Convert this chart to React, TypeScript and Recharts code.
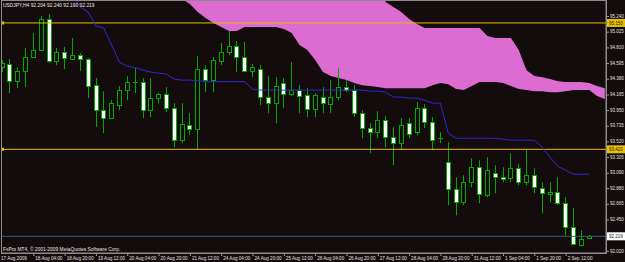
import { Area, Bar, ComposedChart, Line, ReferenceLine, XAxis, YAxis } from "recharts";

// USDJPY H4, 17 Aug 2009 12:00 .. 3 Sep 2009 00:00 (bar index = position)
const opens = [
  94.54, 94.581, 94.347, 94.485, 94.677, 94.773, 95.199, 94.622, 94.746, 94.65,
  94.705, 94.65, 94.292, 93.949, 93.839, 94.018, 94.224, 94.334, 94.334, 93.949,
  94.114, 94.169, 93.976, 93.537, 93.743, 93.688, 94.512, 94.361, 94.622, 94.746,
  94.828, 94.677, 94.485, 94.512, 94.128, 94.045, 94.32, 94.169, 94.224, 94.155,
  93.963, 94.128, 94.031, 94.128, 94.265, 94.224, 93.908, 93.702, 93.647, 93.812,
  93.578, 93.496, 93.771, 93.647, 93.976, 93.784, 93.562, 93.235, 92.864, 92.685,
  92.96, 93.166, 92.781, 93.084, 93.029, 93.015, 93.152, 92.96, 93.056, 92.878,
  92.795, 92.823, 92.672, 92.342, 92.095, 92.204,
];
const highs = [
  94.636, 94.65, 94.54, 94.801, 95.007, 95.24, 95.268, 94.801, 94.815, 94.938,
  94.732, 94.663, 94.389, 94.21, 94.086, 94.279, 94.416, 94.526, 94.389, 94.389,
  94.183, 94.265, 94.045, 94.045, 93.908, 94.691, 94.567, 94.677, 94.869, 95.034,
  94.897, 94.883, 94.581, 94.567, 94.416, 94.402, 94.389, 94.608, 94.292, 94.251,
  94.183, 94.265, 94.361, 94.526, 94.361, 94.292, 93.949, 93.77, 93.935, 93.867,
  93.716, 93.839, 93.839, 94.059, 94.031, 93.853, 93.647, 93.509, 93.029, 93.056,
  93.29, 93.262, 93.303, 93.194, 93.166, 93.358, 93.207, 93.4, 93.152, 92.96,
  92.96, 93.029, 92.754, 92.603, 92.301, 92.24,
];
const lows = [
  94.471, 94.183, 94.251, 94.265, 94.67, 94.76, 94.595, 94.567, 94.512, 94.64,
  94.485, 94.114, 93.716, 93.633, 93.825, 93.949, 94.086, 94.183, 93.839, 93.853,
  94.045, 93.922, 93.441, 93.496, 93.606, 93.4, 94.196, 94.196, 94.567, 94.705,
  94.471, 94.471, 94.402, 94.018, 93.908, 93.77, 93.977, 94.141, 93.908, 93.853,
  93.853, 93.908, 93.908, 94.086, 94.196, 93.853, 93.564, 93.358, 93.564, 93.441,
  93.194, 93.4, 93.564, 93.606, 93.702, 93.4, 93.496, 92.644, 92.507, 92.644,
  92.891, 92.672, 92.754, 92.809, 92.96, 92.96, 92.919, 92.919, 92.809, 92.534,
  92.685, 92.644, 92.232, 92.095, 92.081, 92.19,
];
const closes = [
  94.595, 94.347, 94.485, 94.677, 94.773, 95.199, 94.622, 94.746, 94.663, 94.705,
  94.65, 94.279, 93.949, 93.839, 94.045, 94.224, 94.334, 94.327, 93.949, 94.114,
  94.169, 93.976, 93.537, 93.757, 93.688, 94.512, 94.361, 94.636, 94.746, 94.828,
  94.677, 94.485, 94.54, 94.128, 94.045, 94.279, 94.169, 94.224, 94.141, 93.963,
  94.155, 94.045, 94.128, 94.265, 94.224, 93.908, 93.702, 93.647, 93.812, 93.578,
  93.496, 93.743, 93.619, 93.976, 93.784, 93.537, 93.555, 92.864, 92.685, 92.96,
  93.166, 92.795, 93.125, 93.029, 93.001, 93.152, 92.96, 93.056, 92.891, 92.809,
  92.823, 92.672, 92.342, 92.109, 92.177, 92.219,
];

// Kijun-sen
const kijun = [
  95.78, 95.78, 95.78, 95.78, 95.78, 95.78, 95.62, 95.62, 95.62, 95.5,
  95.364, 95.295, 95.103, 95.075, 94.842, 94.608, 94.553, 94.533, 94.498, 94.471,
  94.457, 94.444, 94.375, 94.361, 94.361, 94.354, 94.34, 94.34, 94.34, 94.34,
  94.34, 94.34, 94.237, 94.224, 94.224, 94.224, 94.224, 94.224, 94.224, 94.224,
  94.224, 94.224, 94.224, 94.224, 94.224, 94.224, 94.224, 94.21, 94.21, 94.196,
  94.128, 94.128, 94.114, 94.114, 94.086, 94.045, 94.045, 93.633, 93.564, 93.564,
  93.564, 93.564, 93.564, 93.564, 93.551, 93.537, 93.537, 93.537, 93.537, 93.441,
  93.303, 93.18, 93.125, 93.07, 93.07, 93.07,
];

// Senkou spans (cloud edges), run 2 bars past the last candle
const spanUpper = [
  95.7, 95.7, 95.7, 95.7, 95.7, 95.7, 95.7, 95.7, 95.7, 95.7,
  95.7, 95.7, 95.7, 95.7, 95.7, 95.7, 95.7, 95.7, 95.7, 95.7,
  95.7, 95.7, 95.7, 95.7, 95.7, 95.7, 95.7, 95.7, 95.7, 95.7,
  95.7, 95.7, 95.7, 95.7, 95.7, 95.7, 95.7, 95.7, 95.7, 95.7,
  95.7, 95.7, 95.7, 95.7, 95.7, 95.7, 95.7, 95.7, 95.7, 95.432,
  95.364, 95.295, 95.199, 95.13, 95.075, 95.075, 95.075, 95.075, 95.075, 95.075,
  95.075, 95.075, 94.965, 94.938, 94.938, 94.938, 94.773, 94.498, 94.416, 94.402,
  94.375, 94.347, 94.334, 94.334, 94.334, 94.32, 94.279, 94.251,
];
const spanLower = [
  95.7, 95.7, 95.7, 95.7, 95.7, 95.7, 95.7, 95.7, 95.7, 95.7,
  95.7, 95.7, 95.7, 95.7, 95.7, 95.7, 95.7, 95.7, 95.7, 95.7,
  95.7, 95.7, 95.7, 95.474, 95.405, 95.295, 95.213, 95.144, 95.089, 95.034,
  95.034, 95.089, 95.089, 95.089, 95.089, 95.089, 95.062, 95.007, 94.842, 94.773,
  94.636, 94.471, 94.416, 94.389, 94.361, 94.32, 94.292, 94.279, 94.265, 94.251,
  94.251, 94.251, 94.251, 94.251, 94.251, 94.292, 94.32, 94.306, 94.238, 94.224,
  94.279, 94.334, 94.334, 94.334, 94.32, 94.279, 94.238, 94.224, 94.21, 94.21,
  94.196, 94.196, 94.21, 94.224, 94.224, 94.224, 94.142, 94.101,
];

const timeTicks = [0, 4, 8, 12, 16, 20, 24, 28, 32, 36, 40, 44, 48, 52, 56, 60, 64, 68, 72];
const timeLabels = [
  "17 Aug 2009", "18 Aug 04:00", "18 Aug 20:00", "19 Aug 12:00", "20 Aug 04:00",
  "20 Aug 20:00", "21 Aug 12:00", "24 Aug 04:00", "24 Aug 20:00", "25 Aug 12:00",
  "26 Aug 04:00", "26 Aug 20:00", "27 Aug 12:00", "28 Aug 04:00", "28 Aug 20:00",
  "31 Aug 12:00", "1 Sep 04:00", "1 Sep 20:00", "2 Sep 12:00",
];
const priceTicks = [
  95.24, 95.025, 94.81, 94.595, 94.38, 94.165, 93.95, 93.735, 93.52, 93.305,
  93.09, 92.88, 92.665, 92.45, 92.02,
];
const levelValues = [95.145, 93.412];
const levelLabels = ["95.150", "93.420"];
const lastPrice = 92.219;

const BG = "#140c0c";
const GREEN = "#00a800";
const FONT = '"Liberation Sans", Arial, sans-serif';

const rows = spanUpper.map((up, i) => ({
  i,
  range: i < closes.length ? [lows[i], highs[i]] : null,
  open: opens[i],
  high: highs[i],
  low: lows[i],
  close: closes[i],
  kijun: kijun[i],
  cloud: [spanLower[i], up],
}));

function Candle(props: any) {
  const { x, y, width, height, payload } = props;
  if (payload == null || payload.high == null || !height) return null;
  const { open, high, low, close } = payload;
  const cx = Math.round(x + width / 2);
  const toY = (v: number) => y + ((high - v) / (high - low)) * height;
  const top = Math.round(toY(Math.max(open, close))) + 0.5;
  let bot = Math.round(toY(Math.min(open, close))) + 0.5;
  const wick = (
    <line x1={cx + 0.5} x2={cx + 0.5} y1={y} y2={y + height} stroke={GREEN} strokeWidth={1} />
  );
  if (Math.abs(open - close) < 0.01) {
    return (
      <g>
        {wick}
        <line x1={cx - 2} x2={cx + 3} y1={top} y2={top} stroke={GREEN} strokeWidth={1} />
      </g>
    );
  }
  if (bot - top < 2) bot = top + 2;
  return (
    <g>
      {wick}
      <rect
        x={cx - 1.5}
        y={top}
        width={4}
        height={bot - top}
        fill={close < open ? "#ffffff" : BG}
        stroke={GREEN}
        strokeWidth={1}
      />
    </g>
  );
}

function TimeTick({ x, y, payload }: any) {
  const idx = timeTicks.indexOf(payload.value);
  const first = idx === 0;
  return (
    <g>
      {!first && <line x1={x + 0.5} x2={x + 0.5} y1={y} y2={y + 3} stroke="#9a9a9a" />}
      <text x={first ? x - 1 : x + 2} y={y + 7} fontSize={4.6} fill="#e0e0e0" fontFamily={FONT}>
        {timeLabels[idx]}
      </text>
    </g>
  );
}

function PriceTick({ x, y, payload }: any) {
  return (
    <g>
      <line x1={x} x2={x + 3} y1={y + 0.5} y2={y + 0.5} stroke="#9a9a9a" />
      <text x={x + 4} y={y + 1.7} fontSize={4.5} fill="#e0e0e0" fontFamily={FONT}>
        {payload.value.toFixed(3)}
      </text>
    </g>
  );
}

function PriceTag({ viewBox, text, bg, color, marker }: any) {
  if (!viewBox) return null;
  const right = viewBox.x + viewBox.width;
  const yy = viewBox.y;
  return (
    <g>
      {marker && <rect x={viewBox.x - 1} y={yy - 1.5} width={3} height={3} fill={bg} />}
      <rect x={right} y={yy - 4} width={19} height={8} fill={bg} />
      <text x={right + 3} y={yy + 1.7} fontSize={4.5} fill={color} fontFamily={FONT}>
        {text}
      </text>
    </g>
  );
}

export default function App() {
  return (
    <div
      style={{
        position: "absolute",
        left: 0,
        top: 0,
        width: 625,
        height: 262,
        background: BG,
        overflow: "hidden",
      }}
    >
      <ComposedChart width={625} height={262} data={rows} margin={{ top: 1, right: 0, bottom: 0, left: 2 }}>
        <XAxis
          type="number"
          dataKey="i"
          domain={[0, 77.15]}
          allowDataOverflow
          ticks={timeTicks}
          interval={0}
          height={9}
          tickSize={0}
          tickMargin={0}
          axisLine={{ stroke: "#8c8c8c" }}
          tick={<TimeTick />}
        />
        <YAxis
          orientation="right"
          type="number"
          domain={[91.99, 95.446]}
          allowDataOverflow
          ticks={priceTicks}
          interval={0}
          width={19}
          tickSize={0}
          tickMargin={0}
          axisLine={{ stroke: "#8c8c8c" }}
          tick={<PriceTick />}
        />
        <Area
          dataKey="cloud"
          type="linear"
          stroke="none"
          fill="#dc6bd2"
          fillOpacity={1}
          isAnimationActive={false}
        />
        <ReferenceLine
          y={levelValues[0]}
          stroke="#e6bf00"
          strokeWidth={1}
          label={<PriceTag text={levelLabels[0]} bg="#e6bf00" color="#1a1a1a" marker />}
        />
        <ReferenceLine
          y={levelValues[1]}
          stroke="#e6bf00"
          strokeWidth={1}
          label={<PriceTag text={levelLabels[1]} bg="#e6bf00" color="#1a1a1a" marker />}
        />
        <ReferenceLine
          y={lastPrice}
          stroke="#2a6272"
          strokeWidth={1}
          label={<PriceTag text={lastPrice.toFixed(3)} bg="#ffffff" color="#1a1a1a" />}
        />
        <Bar dataKey="range" barSize={5} shape={<Candle />} isAnimationActive={false} />
        <Line
          dataKey="kijun"
          type="linear"
          stroke="#2a2ad6"
          strokeWidth={1}
          dot={false}
          activeDot={false}
          isAnimationActive={false}
        />
      </ComposedChart>
      <svg
        width={625}
        height={262}
        style={{ position: "absolute", left: 0, top: 0, pointerEvents: "none" }}
      >
        <rect x={1.5} y={0.5} width={605} height={253} fill="none" stroke="#8c8c8c" />
        <text x={3} y={7} fontSize={4.9} fill="#e8e8e8" fontFamily={FONT}>
          USDJPY,H4  92.204 92.240 92.190 92.219
        </text>
        <text x={3} y={250.5} fontSize={4.9} fill="#e8e8e8" fontFamily={FONT}>
          FxPro MT4, © 2001-2009 MetaQuotes Software Corp.
        </text>
      </svg>
    </div>
  );
}
